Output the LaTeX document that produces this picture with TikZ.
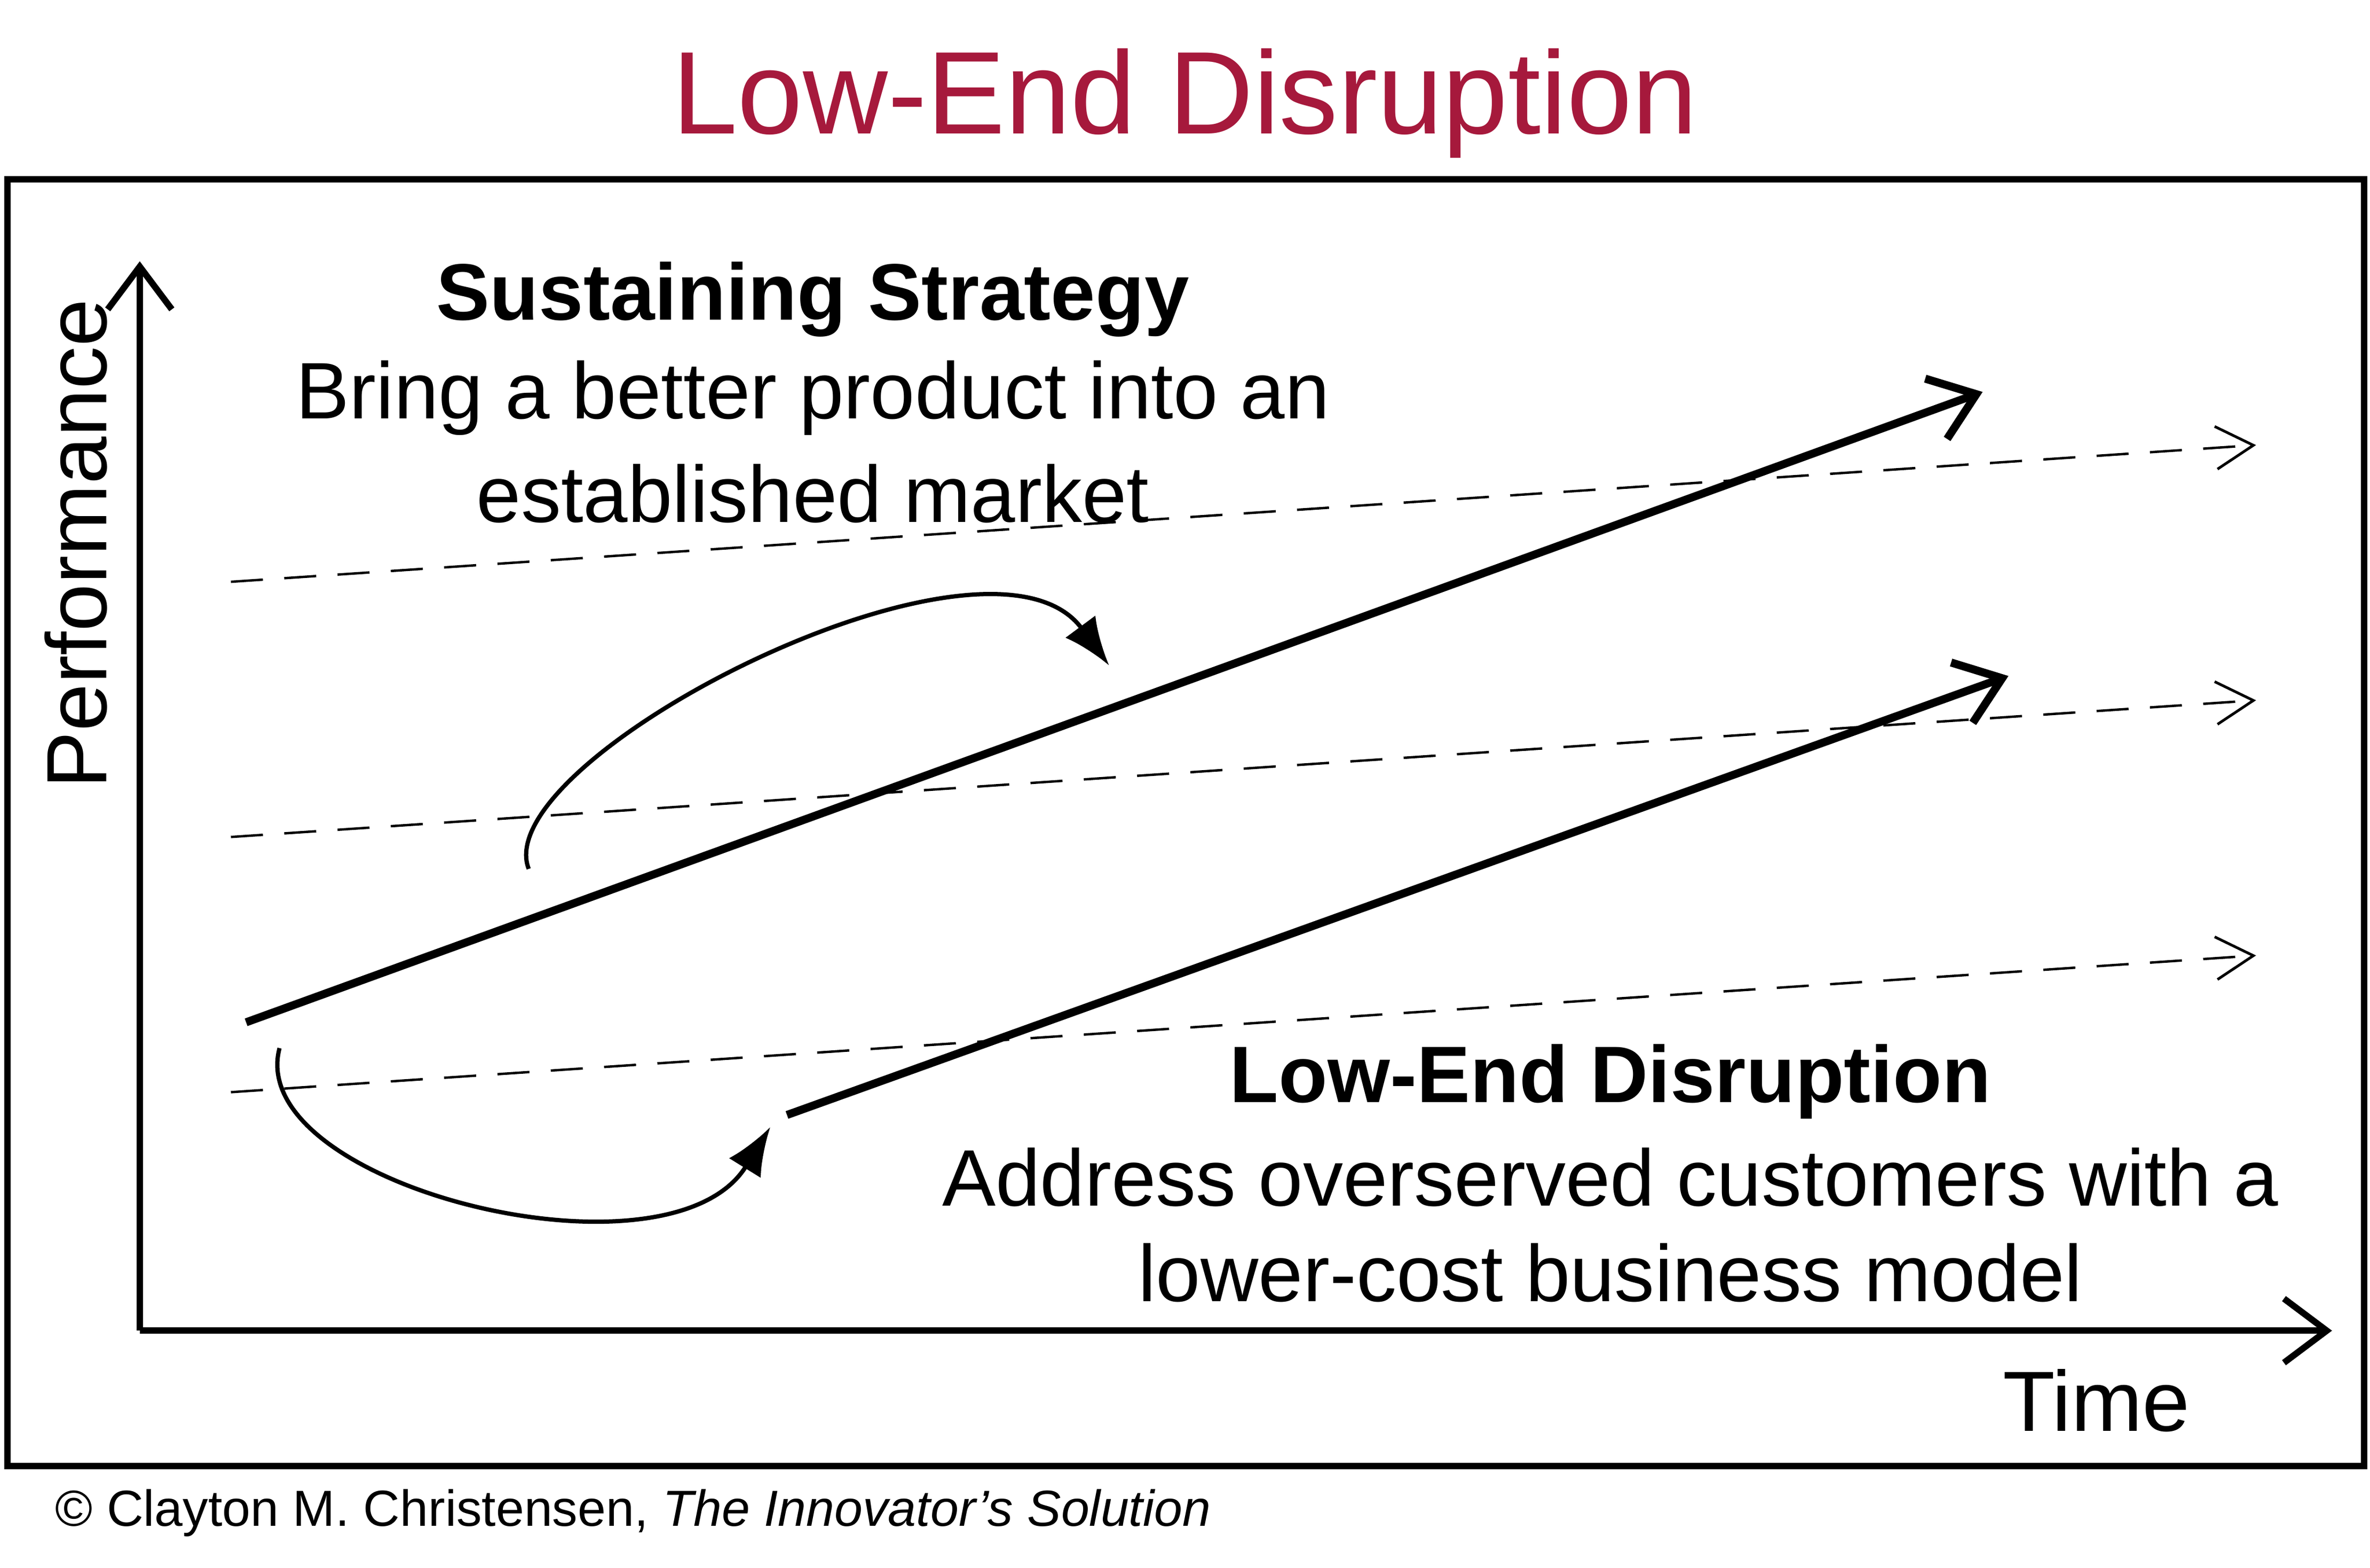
\documentclass[tikz,border=0pt]{standalone}
\usepackage{fontspec}
\setmainfont{Liberation Sans}
\usetikzlibrary{arrows.meta}
\definecolor{crim}{HTML}{A6193C}
\begin{document}
\begin{tikzpicture}[x=0.01cm,y=-0.01cm,
  txt/.style={font=\fontsize{15}{18}\selectfont},
  bld/.style={font=\fontsize{15}{18}\selectfont\bfseries},
  dashln/.style={line width=0.45pt,dash pattern=on 6pt off 4pt,-{Straight Barb[length=7pt,width=8pt,line width=0.5pt]}},
  thk/.style={line width=1.5pt,-{Straight Barb[length=8pt,width=12pt,line width=1.5pt]}},
  crv/.style={line width=0.8pt,-{Latex[length=9pt,width=7pt]}}]
\useasboundingbox (0,0) rectangle (1560,1032);
\node[font=\fontsize{22}{26}\selectfont,text=crim] (title) at (780,68) {Low-End Disruption};
\draw[line width=1.2pt] (5,118) rectangle (1556,965);
\coordinate (o) at (92,876);
\coordinate (yt) at (92,172);
\coordinate (xt) at (1535,876);
\draw[line width=1.2pt,-{Straight Barb[length=8pt,width=12pt,line width=1.2pt]}] (o) -- (yt);
\draw[line width=1.2pt,-{Straight Barb[length=8pt,width=12pt,line width=1.2pt]}] (o) -- (xt);
\node[rotate=90,font=\fontsize{16}{19}\selectfont] (perf) at (50,358) {Performance};
\node[font=\fontsize{16}{19}\selectfont] (time) at (1380,922) {Time};
\node[bld] (ss) at (535,197) {Sustaining Strategy};
\node[txt] (ss1) at (535,262) {Bring a better product into an};
\node[txt] (ss2) at (535,325) {established market};
\coordinate (d1a) at (152,383); \coordinate (d1b) at (1485,293);
\coordinate (d2a) at (152,551); \coordinate (d2b) at (1485,461);
\coordinate (d3a) at (152,719); \coordinate (d3b) at (1485,629);
\draw[dashln] (d1a) -- (d1b);
\draw[dashln] (d2a) -- (d2b);
\draw[dashln] (d3a) -- (d3b);
\coordinate (s1) at (162,673); \coordinate (s2) at (1305,258);
\coordinate (l1) at (518,734); \coordinate (l2) at (1322,445);
\draw[thk] (s1) -- (s2);
\draw[thk] (l1) -- (l2);
\coordinate (c1) at (348,572); \coordinate (c2) at (730,438);
\draw[crv] (c1) .. controls (320,500) and (650,330) .. (c2);
\coordinate (c3) at (184,690); \coordinate (c4) at (507,742);
\draw[crv] (c3) .. controls (160,780) and (440,850) .. (c4);
\node[bld] (ld) at (1060,712) {Low-End Disruption};
\node[txt] (ld1) at (1060,775) {Address overserved customers with a};
\node[txt] (ld2) at (1060,838) {lower-cost business model};
\node[anchor=west,font=\fontsize{9.5}{11}\selectfont] (copy) at (24,996) {© Clayton M. Christensen, \textit{The Innovator’s Solution}};
\end{tikzpicture}
\end{document}
